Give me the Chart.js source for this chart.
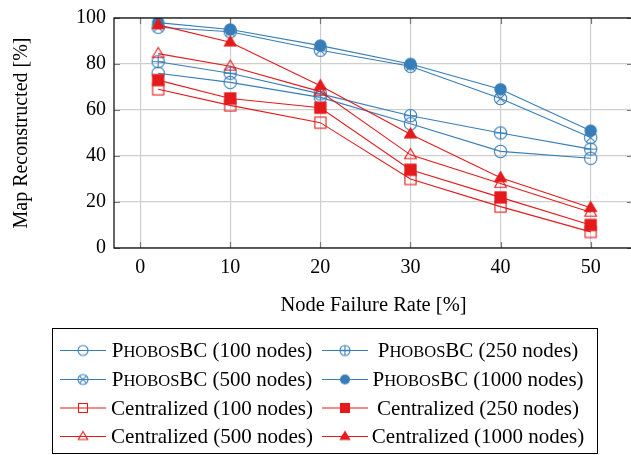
<!DOCTYPE html>
<html>
<head>
<meta charset="utf-8">
<script src="https://cdn.jsdelivr.net/npm/chart.js@4.4.1/dist/chart.umd.min.js"></script>
<style>
  html, body { margin: 0; padding: 0; background: #fff; overflow: hidden; }
  #wrap { width: 631px; height: 455px; overflow: hidden; }
  canvas { display: block; }
</style>
</head>
<body>
<div id="wrap"><canvas id="chart" width="640" height="455" style="width:640px;height:455px"></canvas></div>
<script>
// failure rates on the x axis
const failureRates = [2, 10, 20, 30, 40, 50];

// map reconstructed [%]
const phobos100  = [76, 72, 65.5, 54, 42, 39];
const phobos250  = [81, 76, 67, 57.5, 50, 43];
const phobos500  = [96, 94, 86, 79, 65, 48];
const phobos1000 = [98, 95, 88, 80, 69, 51];
const central100  = [69, 62, 54.5, 30, 18, 7];
const central250  = [73, 65, 61, 34, 22, 10];
const central500  = [84.5, 79, 68, 40.5, 28, 15.5];
const central1000 = [97, 89.5, 70.5, 49.5, 30.5, 17.5];

const xTicks = [0, 10, 20, 30, 40, 50];
const yTicks = [0, 20, 40, 60, 80, 100];

const BLUE = '#377eb8';
const RED = '#e41a1c';
const FONT = '"Liberation Serif", "DejaVu Serif", serif';

// little canvases used as point styles
function marker(kind, color, r) {
  const s = Math.ceil(r * 2 + 4);
  const c = document.createElement('canvas');
  c.width = s; c.height = s;
  const g = c.getContext('2d');
  const m = s / 2;
  g.strokeStyle = color;
  g.fillStyle = color;
  g.lineWidth = 1.1;
  if (kind.indexOf('circle') === 0) {
    g.beginPath(); g.arc(m, m, r, 0, Math.PI * 2);
    if (kind === 'circleFill') g.fill(); else g.stroke();
    if (kind === 'circlePlus') {
      g.beginPath();
      g.moveTo(m - r, m); g.lineTo(m + r, m);
      g.moveTo(m, m - r); g.lineTo(m, m + r);
      g.stroke();
    }
    if (kind === 'circleX') {
      const d = r * 0.707;
      g.beginPath();
      g.moveTo(m - d, m - d); g.lineTo(m + d, m + d);
      g.moveTo(m - d, m + d); g.lineTo(m + d, m - d);
      g.stroke();
    }
  } else if (kind.indexOf('square') === 0) {
    const h = r * 0.9;
    if (kind === 'squareFill') g.fillRect(m - h, m - h, 2 * h, 2 * h);
    g.strokeRect(m - h, m - h, 2 * h, 2 * h);
  } else {
    g.beginPath();
    g.moveTo(m, m - r);
    g.lineTo(m + r * 0.95, m + r * 0.6);
    g.lineTo(m - r * 0.95, m + r * 0.6);
    g.closePath();
    if (kind === 'triFill') g.fill();
    g.stroke();
  }
  return c;
}

const seriesDefs = [
  { label: 'P|HOBOS|BC (100 nodes)', data: phobos100, color: BLUE, kind: 'circle' },
  { label: 'P|HOBOS|BC (250 nodes)', data: phobos250, color: BLUE, kind: 'circlePlus' },
  { label: 'P|HOBOS|BC (500 nodes)', data: phobos500, color: BLUE, kind: 'circleX' },
  { label: 'P|HOBOS|BC (1000 nodes)', data: phobos1000, color: BLUE, kind: 'circleFill' },
  { label: 'Centralized (100 nodes)', data: central100, color: RED, kind: 'square' },
  { label: 'Centralized (250 nodes)', data: central250, color: RED, kind: 'squareFill' },
  { label: 'Centralized (500 nodes)', data: central500, color: RED, kind: 'tri' },
  { label: 'Centralized (1000 nodes)', data: central1000, color: RED, kind: 'triFill' }
];

const datasets = seriesDefs.map((d, i) => ({
  label: d.label,
  data: failureRates.map((x, j) => ({ x: x, y: d.data[j] })),
  borderColor: d.color,
  borderWidth: 1.1,
  pointStyle: marker(d.kind, d.color, 6.2),
  legendMarker: marker(d.kind, d.color, 5),
  order: 8 - i,
  fill: false,
  tension: 0
}));

// inner ticks, frame and the boxed legend below
const decorations = {
  id: 'decorations',
  afterDatasetsDraw(chart) {
    const ctx = chart.ctx;
    const a = chart.chartArea;
    const xs = chart.scales.x, ys = chart.scales.y;
    ctx.save();
    ctx.strokeStyle = '#7a7a7a';
    ctx.lineWidth = 1.2;
    ctx.beginPath();
    xTicks.forEach(v => {
      const p = Math.round(xs.getPixelForValue(v)) + 0.5;
      ctx.moveTo(p, a.bottom); ctx.lineTo(p, a.bottom - 6);
      ctx.moveTo(p, a.top); ctx.lineTo(p, a.top + 6);
    });
    yTicks.forEach(v => {
      const p = Math.round(ys.getPixelForValue(v)) + 0.5;
      ctx.moveTo(a.left, p); ctx.lineTo(a.left + 6, p);
      ctx.moveTo(a.right, p); ctx.lineTo(a.right - 6, p);
    });
    ctx.stroke();
    ctx.strokeStyle = '#000';
    ctx.lineWidth = 1.2;
    ctx.strokeRect(a.left, a.top, a.right - a.left, a.bottom - a.top);
    ctx.restore();
  },
  afterDraw(chart) {
    const ctx = chart.ctx;
    ctx.save();
    ctx.strokeStyle = '#000';
    ctx.lineWidth = 1;
    ctx.strokeRect(52.5, 328.5, 545, 125);
    const rows = [350, 379, 407.5, 436];
    const cols = [{ l0: 60, l1: 106, m: 83, t: 212 }, { l0: 322, l1: 368, m: 345, t: 478 }];
    chart.data.datasets.forEach((ds, i) => {
      const y = rows[Math.floor(i / 2)];
      const c = cols[i % 2];
      ctx.strokeStyle = ds.borderColor;
      ctx.lineWidth = 1.1;
      ctx.beginPath();
      ctx.moveTo(c.l0, y + 0.5); ctx.lineTo(c.l1, y + 0.5);
      ctx.stroke();
      const mk = ds.legendMarker;
      ctx.drawImage(mk, c.m - mk.width / 2, y + 0.5 - mk.height / 2);
      // small caps pieces
      const parts = ds.label.split('|');
      const segs = parts.length === 3
        ? [[parts[0], 21], [parts[1], 16.5], [parts[2], 21]]
        : [[parts[0], 21]];
      ctx.fillStyle = '#000';
      ctx.textBaseline = 'alphabetic';
      ctx.textAlign = 'left';
      let w = 0;
      segs.forEach(s => { ctx.font = s[1] + 'px ' + FONT; w += ctx.measureText(s[0]).width; });
      let x = c.t - w / 2;
      segs.forEach(s => {
        ctx.font = s[1] + 'px ' + FONT;
        ctx.fillText(s[0], x, y + 7);
        x += ctx.measureText(s[0]).width;
      });
    });
    ctx.restore();
  }
};

new Chart(document.getElementById('chart'), {
  type: 'line',
  data: { datasets: datasets },
  options: {
    responsive: false,
    animation: false,
    layout: { padding: { top: 12, right: 7, bottom: 137, left: 0 } },
    plugins: { legend: { display: false }, tooltip: { enabled: false } },
    scales: {
      x: {
        type: 'linear',
        min: -2.9,
        max: 54.7,
        afterBuildTicks: s => { s.ticks = xTicks.map(v => ({ value: v })); },
        afterFit: s => { s.height = 70; },
        grid: { color: '#cfcfcf', lineWidth: 1.2, drawTicks: false },
        border: { display: false },
        ticks: { color: '#000', padding: 8, font: { family: FONT, size: 20 } },
        title: { display: true, text: 'Node Failure Rate [%]', color: '#000', padding: 0,
                 font: { family: FONT, size: 20.5 } }
      },
      y: {
        min: 0,
        max: 100,
        afterBuildTicks: s => { s.ticks = yTicks.map(v => ({ value: v })); },
        afterFit: s => { s.width = 114; },
        grid: { color: '#cfcfcf', lineWidth: 1.2, drawTicks: false },
        border: { display: false },
        ticks: { color: '#000', padding: 8, font: { family: FONT, size: 20, lineHeight: 1 } },
        title: { display: true, text: 'Map Reconstructed [%]', color: '#000', padding: { top: 10 },
                 font: { family: FONT, size: 20 } }
      }
    }
  },
  plugins: [decorations]
});
</script>
</body>
</html>
